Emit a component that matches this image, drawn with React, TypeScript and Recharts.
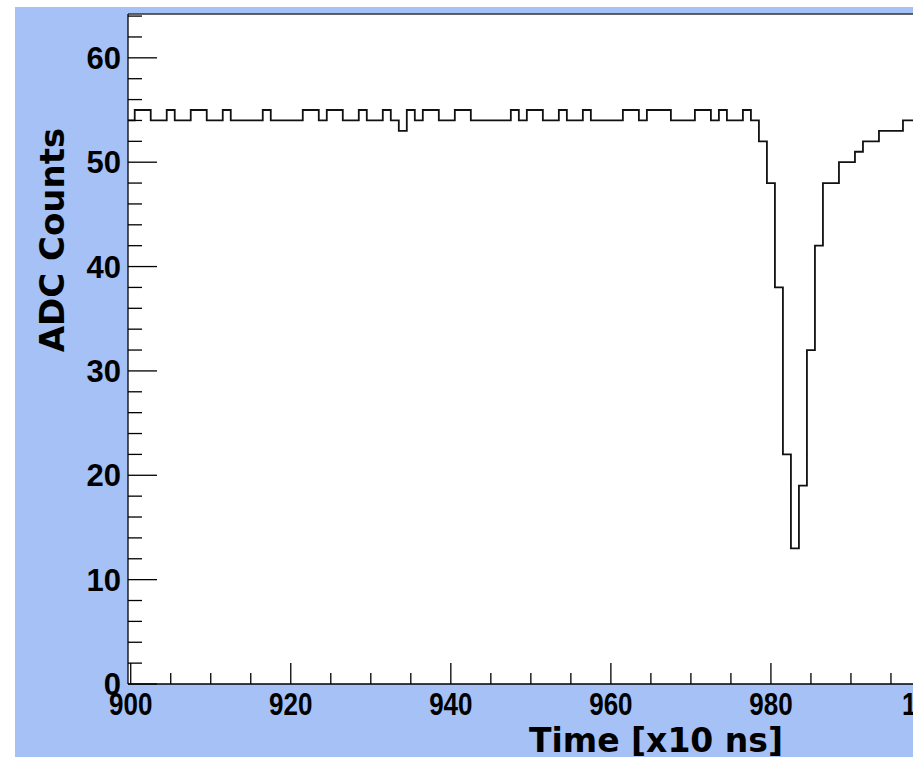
import { LineChart, Line, XAxis, YAxis, CartesianGrid, ReferenceLine } from "recharts";

// bin centres, time in units of 10 ns
const timeBins = [
  900, 901, 902, 903, 904, 905, 906, 907, 908, 909,
  910, 911, 912, 913, 914, 915, 916, 917, 918, 919,
  920, 921, 922, 923, 924, 925, 926, 927, 928, 929,
  930, 931, 932, 933, 934, 935, 936, 937, 938, 939,
  940, 941, 942, 943, 944, 945, 946, 947, 948, 949,
  950, 951, 952, 953, 954, 955, 956, 957, 958, 959,
  960, 961, 962, 963, 964, 965, 966, 967, 968, 969,
  970, 971, 972, 973, 974, 975, 976, 977, 978, 979,
  980, 981, 982, 983, 984, 985, 986, 987, 988, 989,
  990, 991, 992, 993, 994, 995, 996, 997, 998, 999,
];

const adcCounts = [
  54, 55, 55, 54, 54, 55, 54, 54, 55, 55,
  54, 54, 55, 54, 54, 54, 54, 55, 54, 54,
  54, 54, 55, 55, 54, 55, 55, 54, 54, 55,
  54, 54, 55, 54, 53, 55, 54, 55, 55, 54,
  54, 55, 55, 54, 54, 54, 54, 54, 55, 54,
  55, 55, 54, 54, 55, 54, 54, 55, 54, 54,
  54, 54, 55, 55, 54, 55, 55, 55, 54, 54,
  54, 55, 55, 54, 55, 54, 54, 55, 54, 52,
  48, 38, 22, 13, 19, 32, 42, 48, 48, 50,
  50, 51, 52, 52, 53, 53, 53, 54, 54, 54,
];

const xTicks = [
  900, 905, 910, 915, 920, 925, 930, 935, 940, 945, 950, 955,
  960, 965, 970, 975, 980, 985, 990, 995, 1000, 1005, 1010,
];
const xLabels = [900, 920, 940, 960, 980, 1000];

const yTicks = [
  0, 2, 4, 6, 8, 10, 12, 14, 16, 18, 20, 22, 24, 26, 28, 30, 32,
  34, 36, 38, 40, 42, 44, 46, 48, 50, 52, 54, 56, 58, 60, 62, 64,
];
const yLabels = [0, 10, 20, 30, 40, 50, 60];

// histogram: one point per lower bin edge, plus the closing edge
const rows = timeBins.map((t, i) => ({ edge: t - 0.5, adc: adcCounts[i] }));
rows.push({ edge: timeBins[timeBins.length - 1] + 0.5, adc: adcCounts[adcCounts.length - 1] });

const labelFont = "'Liberation Sans', Arial, sans-serif";
const titleFont = "'DejaVu Sans', sans-serif";

const XTick = (props: any) => {
  const { x, y, payload } = props;
  const v = payload.value;
  const major = v % 20 === 0;
  return (
    <g>
      <line x1={x} x2={x} y1={y} y2={y - (major ? 21 : 11)} stroke="#000" strokeWidth={1.3} />
      {xLabels.includes(v) && (
        <text
          x={0}
          y={0}
          transform={`translate(${x},${y + 31}) scale(1,1.2)`}
          textAnchor="middle"
          fontFamily={labelFont}
          fontWeight="bold"
          fontSize={26}
          fill="#000"
        >
          {v}
        </text>
      )}
    </g>
  );
};

const YTick = (props: any) => {
  const { x, y, payload } = props;
  const v = payload.value;
  const major = v % 10 === 0;
  return (
    <g>
      <line x1={x} x2={x + (major ? 29 : 14)} y1={y} y2={y} stroke="#000" strokeWidth={1.3} />
      {yLabels.includes(v) && (
        <text
          x={x - 7}
          y={y + 11}
          textAnchor="end"
          fontFamily={labelFont}
          fontWeight="bold"
          fontSize={31}
          fill="#000"
        >
          {v}
        </text>
      )}
    </g>
  );
};

export default function App() {
  return (
    <div style={{ position: "fixed", left: 0, top: 0, width: 913, height: 757, overflow: "hidden", background: "#fff" }}>
      <div style={{ position: "absolute", left: 15, top: 7, right: 0, bottom: 0, background: "#a6c1f5" }} />
      <div style={{ position: "absolute", left: 0, top: 0 }}>
        <LineChart width={1011} height={757} data={rows} margin={{ top: 14, right: 0, bottom: 0, left: 0 }}>
          <CartesianGrid horizontal={false} vertical={false} fill="#fff" />
          <XAxis
            dataKey="edge"
            type="number"
            domain={[899.66, 1010]}
            allowDataOverflow
            ticks={xTicks}
            interval={0}
            tick={<XTick />}
            tickLine={false}
            tickSize={0}
            tickMargin={0}
            height={73}
            axisLine={{ stroke: "#000", strokeWidth: 1.3 }}
          />
          <YAxis
            type="number"
            domain={[0, 64.2]}
            allowDataOverflow
            ticks={yTicks}
            interval={0}
            tick={<YTick />}
            tickLine={false}
            tickSize={0}
            tickMargin={0}
            width={128}
            axisLine={{ stroke: "#000", strokeWidth: 1.3 }}
          />
          <ReferenceLine y={64.2} stroke="#333" strokeWidth={1.3} />
          <Line
            type="stepAfter"
            dataKey="adc"
            stroke="#111"
            strokeWidth={1.8}
            dot={false}
            isAnimationActive={false}
          />
        </LineChart>
      </div>
      <svg width={913} height={757} style={{ position: "absolute", left: 0, top: 0, pointerEvents: "none" }}>
        <text
          x={64}
          y={240}
          transform="rotate(-90 64 240)"
          textAnchor="middle"
          fontFamily={titleFont}
          fontWeight="bold"
          fontSize={34}
          fill="#000"
        >
          ADC Counts
        </text>
        <text x={656} y={752} textAnchor="middle" fontFamily={titleFont} fontWeight="bold" fontSize={33} fill="#000">
          Time [x10 ns]
        </text>
      </svg>
    </div>
  );
}
